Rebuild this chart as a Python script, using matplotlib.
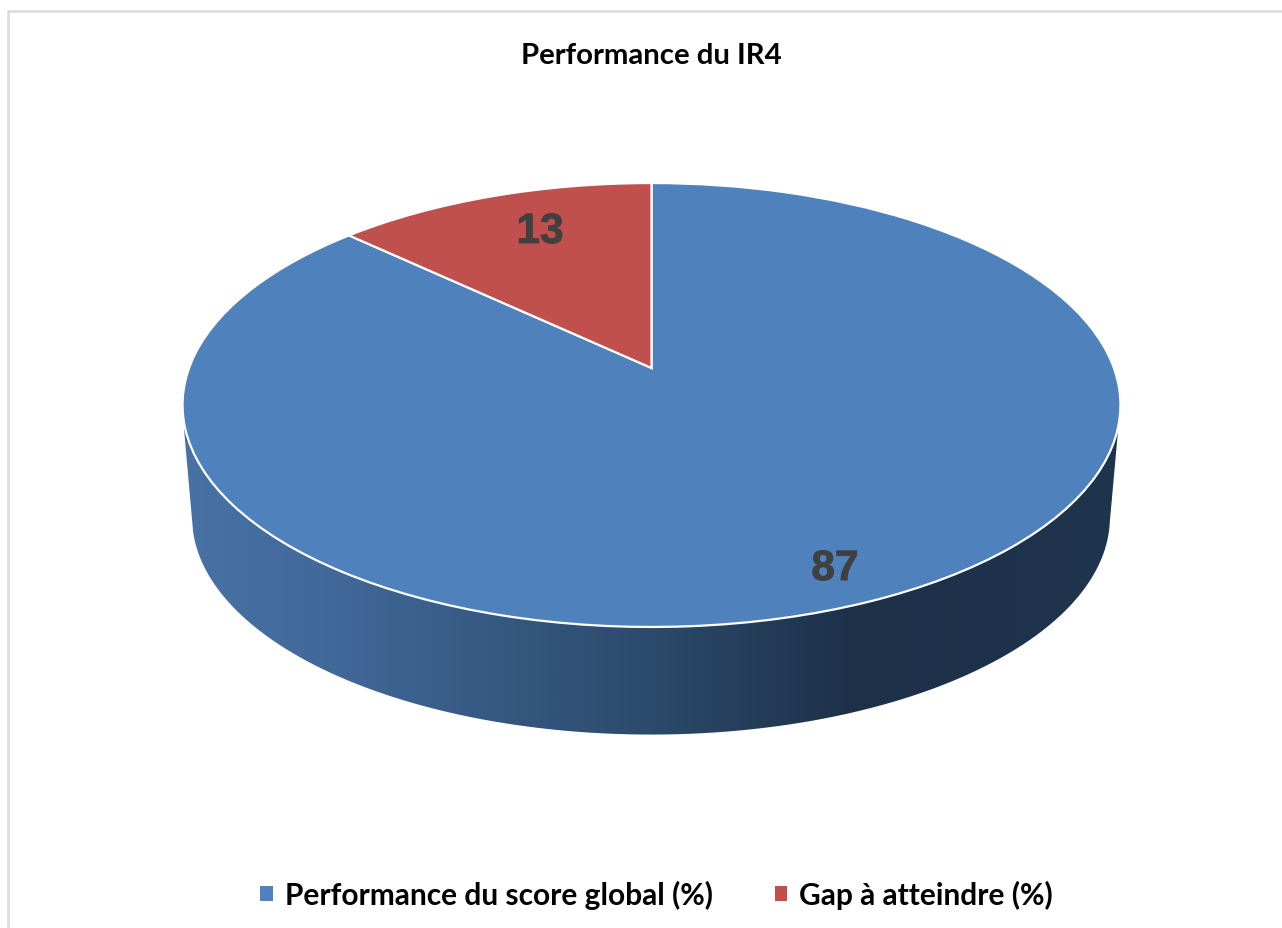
import numpy as np
import matplotlib
matplotlib.use("Agg")
import matplotlib.pyplot as plt
import matplotlib.patheffects as pe
from matplotlib.colors import LinearSegmentedColormap
from matplotlib.patches import Patch
from matplotlib.path import Path
from matplotlib.transforms import Transform

title = "Performance du IR4"
categories = ["Performance du score global (%)", "Gap à atteindre (%)"]
values = [87, 13]
colors = ["#4F81BD", "#C0504D"]


class Perspective(Transform):
    """Tilted disc seen in perspective: unit-circle coordinates to pixels."""
    input_dims = output_dims = 2
    is_affine = False

    def __init__(self, cx, cy, half_w, half_h, k):
        super().__init__()
        self.p = (cx, cy, half_w, half_h, k)

    def transform_non_affine(self, xy):
        cx, cy, a, b, k = self.p
        xy = np.asarray(xy)
        d = 1 + k * xy[:, 1]
        return np.column_stack([cx + a * xy[:, 0] / d, cy - b * xy[:, 1] / d])


W, H = 1282, 929
fig = plt.figure(figsize=(W / 100, H / 100), dpi=100, facecolor="white")
ax = fig.add_axes([0, 0, 1, 1])

top = Perspective(651.5, 369, 462.4, 215.8, 0.1667)
rim = Perspective(651, 482, 452.5, 211.3, 0.1667)

wedges, _ = ax.pie(values, colors=colors, startangle=90, counterclock=False,
                   wedgeprops=dict(edgecolor="white", linewidth=1.6))
ax.set_aspect("auto")
for w in wedges:
    w.set_transform(top + ax.transData)
    w.set_zorder(3)

# Gradient side wall of the disc
ax.set_xlim(0, W)
ax.set_ylim(H, 0)
ang = np.linspace(np.pi * 1.06, np.pi * 1.94, 240)
low = rim.transform_non_affine(np.column_stack([np.cos(ang), np.sin(ang)]))
wall = np.vstack([[184, 430], low, [1118, 432], [651, 400]])
side_cmap = LinearSegmentedColormap.from_list(
    "side",
    [(0.0, "#4872A5"), (0.15, "#41699A"), (0.5, "#2C4A6B"),
     (0.72, "#1C3048"), (1.0, "#1F354D")])
im = ax.imshow(np.linspace(0, 1, 512)[None, :], cmap=side_cmap, aspect="auto",
               extent=(183, 1120, 740, 400), zorder=2)
im.set_clip_path(Path(wall), transform=ax.transData)
ax.set_xlim(0, W)
ax.set_ylim(H, 0)
ax.axis("off")

# Chart frame
ax.plot([8, 8, W + 5], [H + 5, 12, 12], color="#D9D9D9", lw=1.8, zorder=1)

ax.text(651, 55.5, title, family="Lato", weight="bold", fontsize=21.15,
        color="black", ha="center", va="center")
heavy = [pe.withStroke(linewidth=0.7, foreground="#404040")]
ax.text(835, 570, str(values[0]), family="Liberation Sans", weight="bold",
        fontsize=30.5, color="#404040", ha="center", va="center", zorder=4,
        path_effects=heavy)
ax.text(540, 233, str(values[1]), family="Liberation Sans", weight="bold",
        fontsize=30.5, color="#404040", ha="center", va="center", zorder=4,
        path_effects=heavy)

handles = [Patch(facecolor=c, edgecolor="none") for c in colors]
ax.legend(handles, categories, ncol=2, loc="center", bbox_to_anchor=(656.5 / W, 1 - 895.5 / H),
          frameon=False, prop=dict(family="Lato", weight="bold", size=21.5),
          handlelength=0.42, handleheight=0.42, handletextpad=0.4,
          columnspacing=2.07, borderpad=0, labelcolor="black")

fig.savefig("out.png", dpi=100, facecolor="white")
